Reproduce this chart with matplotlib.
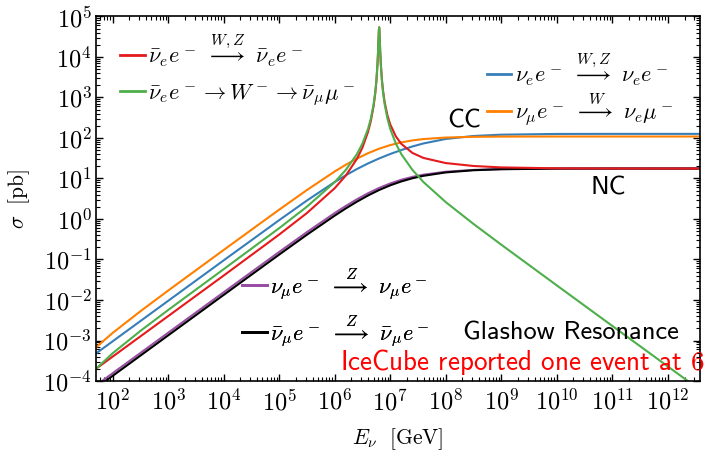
import numpy as np
import matplotlib
matplotlib.use("Agg")
import matplotlib.pyplot as plt
from matplotlib.lines import Line2D
from matplotlib.ticker import LogLocator, NullFormatter, FuncFormatter

plt.rcParams["mathtext.fontset"] = "cm"
plt.rcParams["font.family"] = "DejaVu Sans"

# log10 of the neutrino energy [GeV] for the smooth channels
log_energy = [1.7, 2.0, 2.5, 3.0, 4.0, 5.0, 5.5, 6.0, 6.2, 6.4, 6.6, 6.8,
              7.0, 7.2, 7.4, 7.6, 8.0, 8.5, 9.0, 10.0, 11.0, 12.0, 12.6]

# log10 of the neutrino energy [GeV] for the channels with the W resonance
log_energy_res = [1.7, 2.0, 2.5, 3.0, 4.0, 5.0, 5.5, 6.0, 6.2, 6.4, 6.5, 6.6,
                  6.65, 6.7, 6.73, 6.75, 6.77, 6.78, 6.79, 6.795, 6.80, 6.805,
                  6.81, 6.82, 6.83, 6.85, 6.87, 6.9, 6.95, 7.0, 7.1, 7.2, 7.4,
                  7.6, 8.0, 8.5, 9.0, 10.0, 11.0, 12.0, 12.6]

# log10 of the cross sections [pb]
log_xs_nue_e = [-3.320, -3.020, -2.520, -2.020, -1.021, -0.028, 0.457, 0.914,
                1.080, 1.234, 1.372, 1.495, 1.605, 1.703, 1.791, 1.866, 1.976,
                2.050, 2.082, 2.100, 2.102, 2.102, 2.102]
log_xs_numu_e_cc = [-3.169, -2.813, -2.278, -1.767, -0.764, 0.231, 0.716, 1.174,
                    1.340, 1.492, 1.625, 1.736, 1.825, 1.892, 1.940, 1.974, 2.011,
                    2.029, 2.035, 2.037, 2.037, 2.037, 2.037]
log_xs_numu_e_nc = [-4.108, -3.808, -3.308, -2.808, -1.809, -0.813, -0.323, 0.147,
                    0.322, 0.487, 0.636, 0.767, 0.878, 0.969, 1.040, 1.095, 1.167,
                    1.212, 1.233, 1.244, 1.246, 1.246, 1.246]
log_xs_numubar_e_nc = [-4.173, -3.873, -3.373, -2.873, -1.874, -0.878, -0.387, 0.084,
                       0.262, 0.428, 0.581, 0.716, 0.832, 0.928, 1.006, 1.067, 1.150,
                       1.204, 1.229, 1.244, 1.246, 1.246, 1.246]
log_xs_nuebar_e = [-3.698, -3.398, -2.898, -2.398, -1.396, -0.384, 0.148, 0.761,
                   1.073, 1.485, 1.766, 2.151, 2.418, 2.786, 3.102, 3.392, 3.807,
                   4.100, 4.470, 4.648, 4.732, 4.661, 4.490, 4.128, 3.842, 3.442,
                   3.170, 2.880, 2.557, 2.335, 2.042, 1.854, 1.631, 1.507, 1.381,
                   1.309, 1.274, 1.251, 1.247, 1.246, 1.246]
log_xs_nuebar_e_mu = [-3.700, -3.315, -2.763, -2.247, -1.239, -0.226, 0.305, 0.910,
                      1.212, 1.601, 1.865, 2.224, 2.476, 2.827, 3.132, 3.414, 3.821,
                      4.109, 4.474, 4.650, 4.732, 4.659, 4.486, 4.119, 3.828, 3.418,
                      3.135, 2.830, 2.478, 2.225, 1.864, 1.601, 1.212, 0.910, 0.417,
                      -0.122, -0.634, -1.639, -2.640, -3.640, -4.240]

labels = {
    "nuebar_e": r"$\bar{\nu}_e e^-\ \overset{W,Z}{\longrightarrow}\ \bar{\nu}_e e^-$",
    "nuebar_e_mu": r"$\bar{\nu}_e e^- \to W^- \to \bar{\nu}_\mu \mu^-$",
    "nue_e": r"$\nu_e e^-\ \overset{W,Z}{\longrightarrow}\ \nu_e e^-$",
    "numu_e_cc": r"$\nu_\mu e^-\ \overset{W}{\longrightarrow}\ \nu_e \mu^-$",
    "numu_e_nc": r"$\nu_\mu e^-\ \overset{Z}{\longrightarrow}\ \nu_\mu e^-$",
    "numubar_e_nc": r"$\bar{\nu}_\mu e^-\ \overset{Z}{\longrightarrow}\ \bar{\nu}_\mu e^-$",
}
colors = {
    "nue_e": "#377eb8",
    "numu_e_cc": "#ff7f00",
    "numu_e_nc": "#984ea3",
    "numubar_e_nc": "#000000",
    "nuebar_e": "#e41a1c",
    "nuebar_e_mu": "#4daf4a",
}

fig = plt.figure(figsize=(7.06, 4.61), dpi=100)
ax = fig.add_axes([96 / 706, 80 / 461, 604 / 706, 364.5 / 461])

lw = 1.5
e = 10 ** np.array(log_energy)
e_res = 10 ** np.array(log_energy_res)
ax.plot(e, 10 ** np.array(log_xs_nue_e), color=colors["nue_e"], lw=lw)
ax.plot(e, 10 ** np.array(log_xs_numu_e_cc), color=colors["numu_e_cc"], lw=lw)
ax.plot(e, 10 ** np.array(log_xs_numu_e_nc), color=colors["numu_e_nc"], lw=lw)
ax.plot(e, 10 ** np.array(log_xs_numubar_e_nc), color=colors["numubar_e_nc"], lw=lw)
ax.plot(e_res, 10 ** np.array(log_xs_nuebar_e), color=colors["nuebar_e"], lw=lw)
ax.plot(e_res, 10 ** np.array(log_xs_nuebar_e_mu), color=colors["nuebar_e_mu"], lw=lw)

ax.set_xscale("log")
ax.set_yscale("log")
ax.set_xlim(10 ** 1.7, 3.8e12)
ax.set_ylim(1e-4, 1e5)

decade_fmt = FuncFormatter(lambda v, pos: r"$10^{%d}$" % int(round(np.log10(v))))
for axis in (ax.xaxis, ax.yaxis):
    axis.set_major_locator(LogLocator(base=10, numticks=30))
    axis.set_minor_locator(LogLocator(base=10, subs=np.arange(2, 10), numticks=300))
    axis.set_major_formatter(decade_fmt)
    axis.set_minor_formatter(NullFormatter())
ax.tick_params(which="both", direction="in", top=True, right=True, labelsize=17.5)
ax.tick_params(which="major", length=5, width=1)
ax.tick_params(which="minor", length=3, width=0.8)
ax.tick_params(axis="x", which="major", pad=6)
ax.tick_params(axis="y", which="major", pad=3)
for sp in ax.spines.values():
    sp.set_linewidth(1.2)

ax.set_xlabel(r"$E_\nu\ \ [\mathrm{GeV}]$", fontsize=15.5, labelpad=8)
ax.set_ylabel(r"$\sigma\ \ [\mathrm{pb}]$", fontsize=15.5, labelpad=8)


def add_key(keys, anchor, spacing):
    handles = [Line2D([], [], color=colors[k], lw=2) for k in keys]
    leg = ax.legend(handles, [labels[k] for k in keys], loc="upper left",
                    bbox_to_anchor=anchor, frameon=False, fontsize=16,
                    borderpad=0, borderaxespad=0, handlelength=1.1,
                    handletextpad=0.15, labelspacing=spacing)
    ax.add_artist(leg)


add_key(["nuebar_e", "nuebar_e_mu"], (0.040, 0.958), 0.62)
add_key(["nue_e", "numu_e_cc"], (0.647, 0.906), 0.175)
add_key(["numu_e_nc", "numubar_e_nc"], (0.242, 0.315), 0.50)

txt = dict(transform=ax.transAxes, family="cmss10", va="center", ha="left")
ax.text(0.581, 0.713, "CC", fontsize=19, **txt)
ax.text(0.818, 0.529, "NC", fontsize=19, **txt)
ax.text(0.608, 0.132, "Glashow Resonance", fontsize=19, **txt)
ax.text(0.404, 0.052, r"IceCube reported one event at $6.3$ PeV", color="red",
        fontsize=19.5, clip_on=False, **txt)

fig.savefig("out.png", dpi=100)
